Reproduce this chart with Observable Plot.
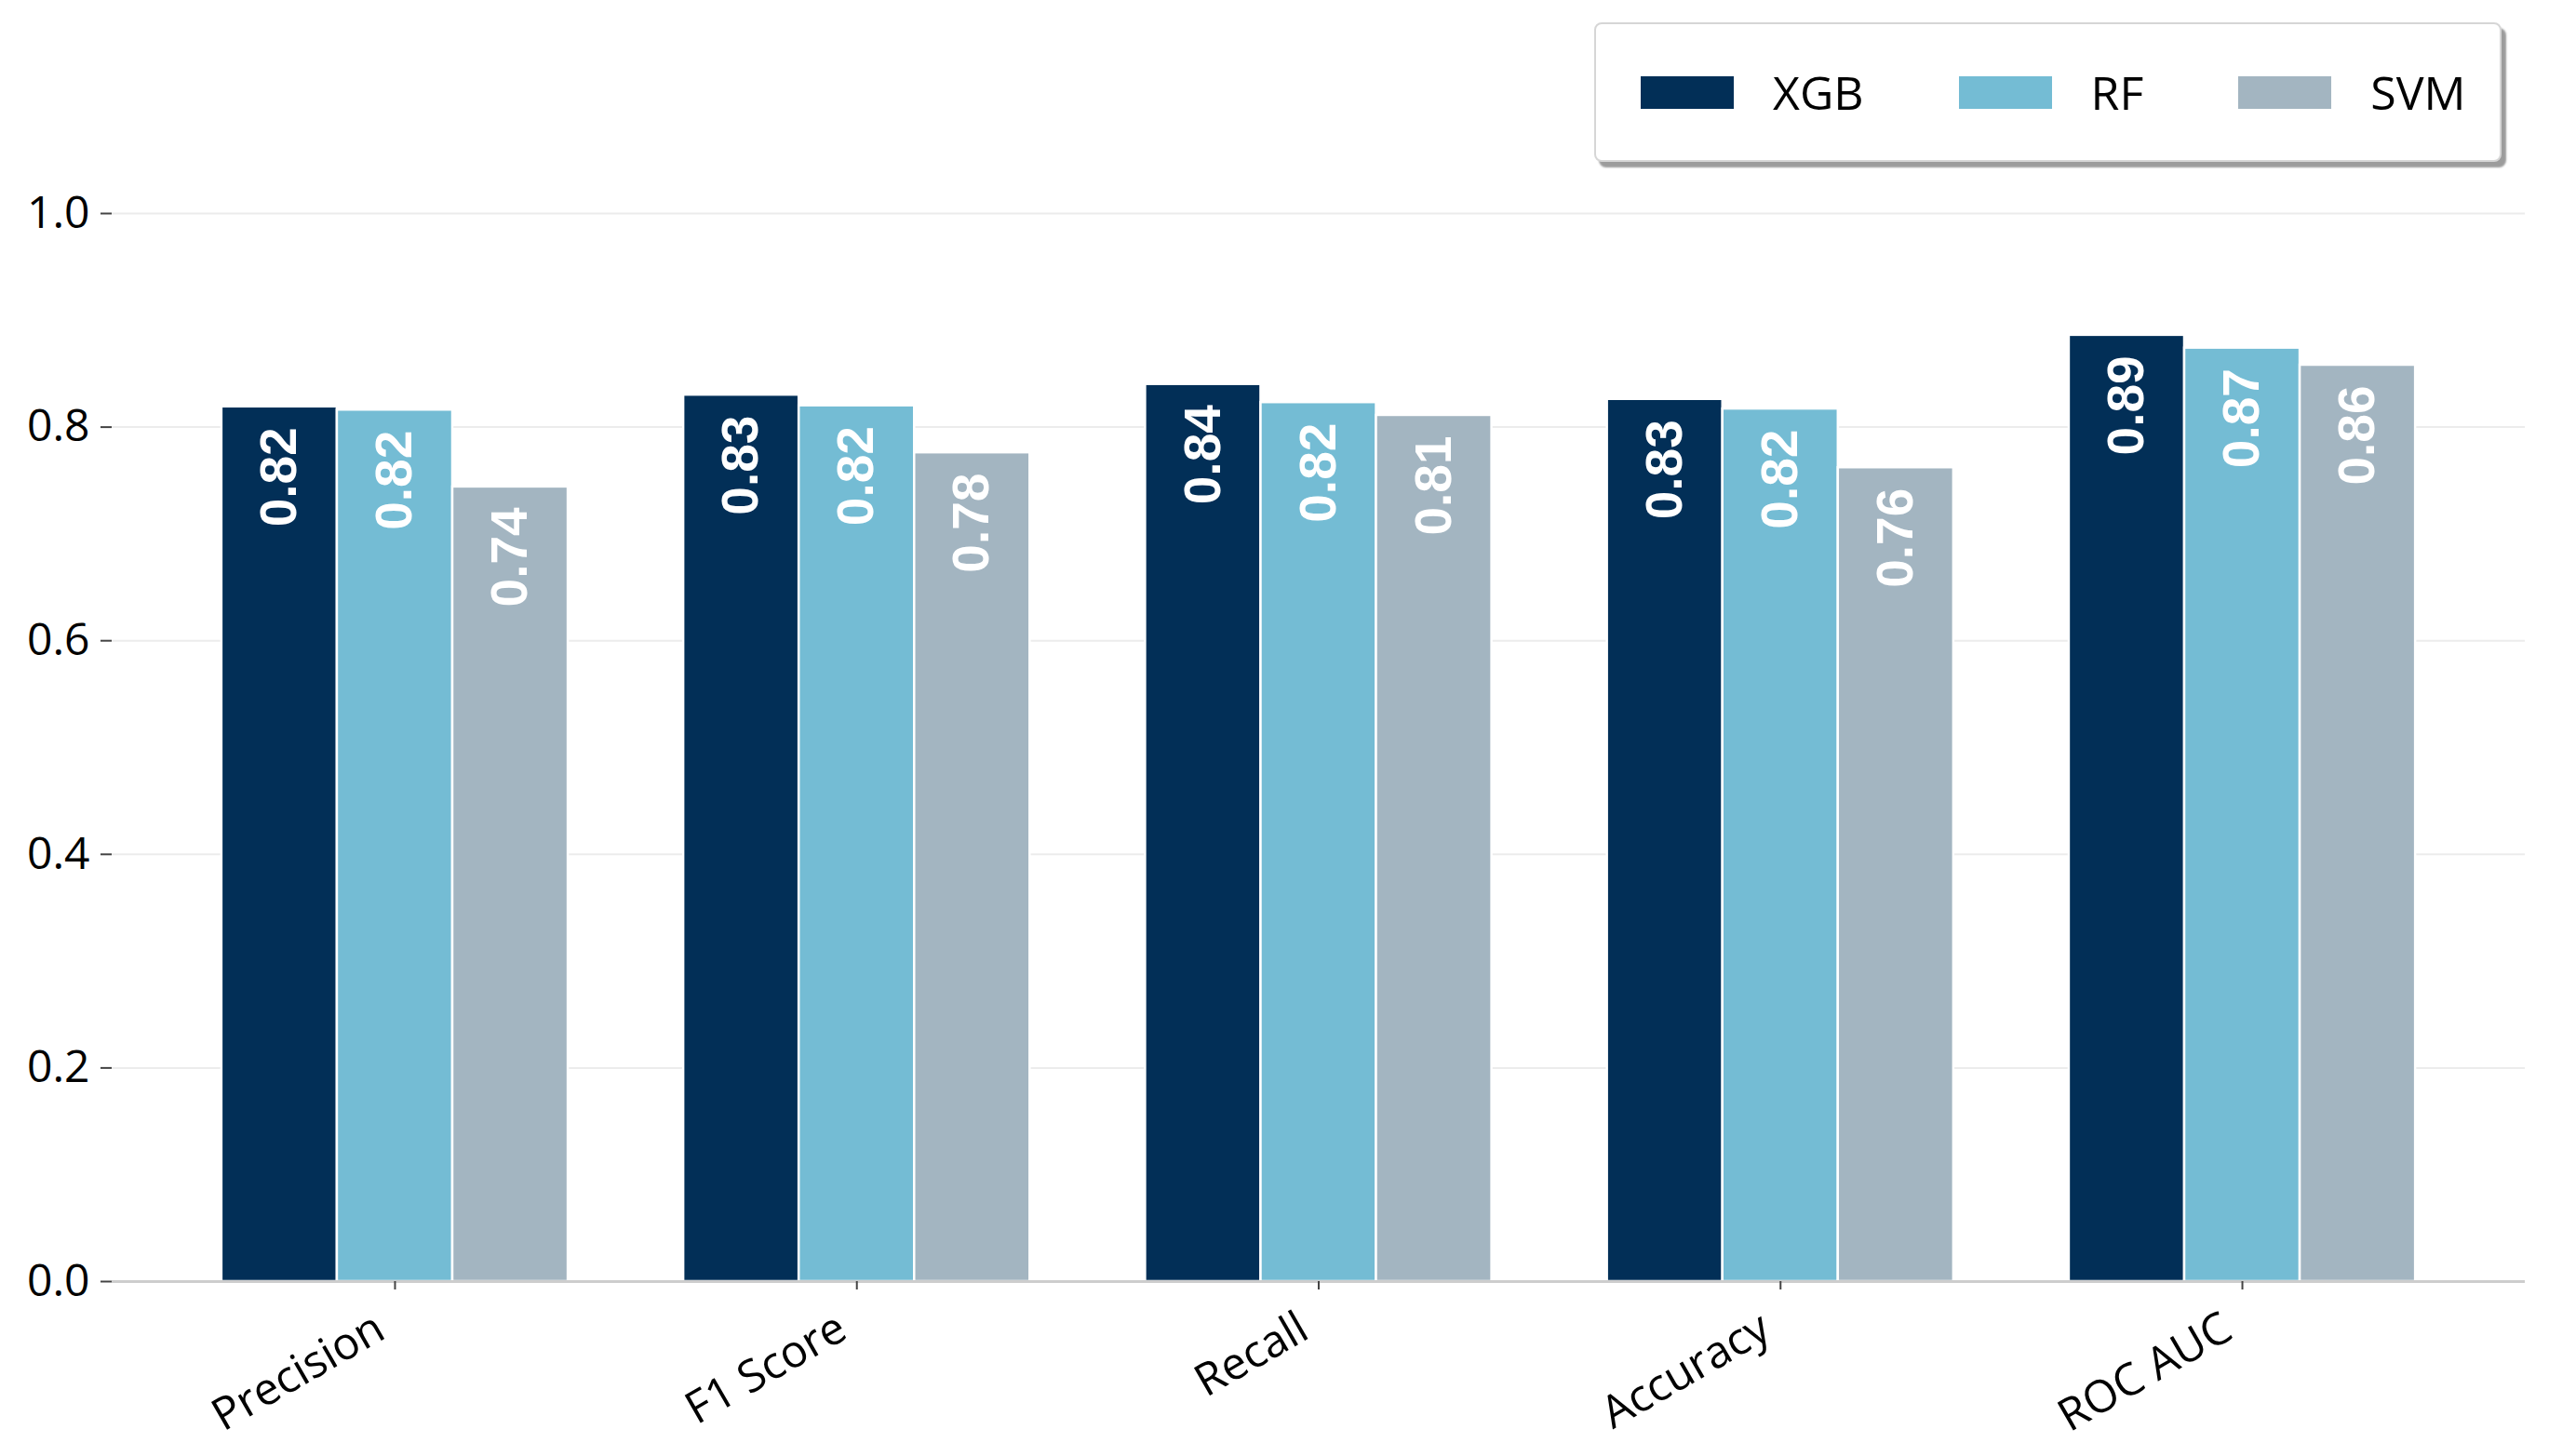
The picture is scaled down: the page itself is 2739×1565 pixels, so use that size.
<!DOCTYPE html>
<html>
<head>
<meta charset="utf-8">
<script src="https://cdn.jsdelivr.net/npm/d3@7"></script>
<script src="https://cdn.jsdelivr.net/npm/@observablehq/plot@0.6"></script>
<style>
  html, body { margin: 0; padding: 0; background: #ffffff; }
  #wrap { position: relative; width: 2739px; height: 1565px; background: #ffffff; }
  #legend {
    position: absolute; left: 1713px; top: 24px;
    border: 2px solid #d6d6d6; border-radius: 8px; background: #ffffff;
    box-shadow: 5px 6px 2px #9c9c9c;
    display: flex; align-items: center;
    font-family: "Open Sans", sans-serif; font-size: 50px; color: #000;
    padding-left: 48px; box-sizing: border-box; width: 975px; height: 150px;
  }
  .item { display: flex; align-items: center; margin-right: 102px; }
  .patch { width: 100px; height: 35px; margin-right: 42px; }
</style>
</head>
<body>
<div id="wrap"><div id="legend"></div></div>
<script>
// ---- data ----
const categories = ["Precision", "F1 Score", "Recall", "Accuracy", "ROC AUC"];
const models = ["XGB", "RF", "SVM"];
const xgbValues = [0.819, 0.830, 0.840, 0.826, 0.886];
const rfValues  = [0.816, 0.820, 0.823, 0.817, 0.874];
const svmValues = [0.744, 0.776, 0.811, 0.762, 0.858];
const modelColors = ["#022f57", "#74bcd4", "#a3b5c1"];
const yTicks = [0.0, 0.2, 0.4, 0.6, 0.8, 1.0];

// ---- derived table ----
const series = [xgbValues, rfValues, svmValues];
const barWidth = 0.25;
const rows = [];
categories.forEach((cat, i) => {
  models.forEach((m, j) => {
    const center = i + (j - 1) * barWidth;
    rows.push({category: cat, model: m, value: series[j][i],
               x1: center - barWidth / 2, x2: center + barWidth / 2, xc: center});
  });
});
const catIndex = categories.map((c, i) => i);

const chart = Plot.plot({
  width: 2739,
  height: 1565,
  marginLeft: 120,
  marginRight: 26,
  marginTop: 229,
  marginBottom: 188,
  style: {fontFamily: "Open Sans", background: "#ffffff"},
  x: {domain: [-0.6125, 4.6125]},
  y: {domain: [0, 1]},
  color: {domain: models, range: modelColors},
  marks: [
    Plot.gridY(yTicks.slice(1), {stroke: "#ececec", strokeOpacity: 1, strokeWidth: 2}),
    Plot.rectY(rows, {x1: "x1", x2: "x2", y: "value", fill: "model", stroke: "white", strokeWidth: 2.5}),
    Plot.ruleY([0], {stroke: "#cdcdcd", strokeWidth: 3}),
    Plot.text(rows, {
      x: "xc", y: "value", text: d => d.value.toFixed(2),
      rotate: -90, textAnchor: "end", dy: 22,
      fill: "white", fontSize: 55, fontWeight: "bold", fontFamily: "Liberation Sans"
    }),
    Plot.axisY({
      ticks: yTicks, tickFormat: d3.format(".1f"), tickSize: 12, tickPadding: 12,
      fontSize: 48, stroke: "#444", strokeWidth: 2, label: null, fill: "#000"
    }),
    Plot.axisX({
      ticks: catIndex, tickFormat: () => "", tickSize: 9, stroke: "#444", strokeWidth: 2, label: null
    }),
    Plot.text(catIndex, {
      x: d => d, y: () => 0, text: d => categories[d],
      rotate: -30, textAnchor: "end", lineAnchor: "top",
      dx: -25, dy: 30, fontSize: 48, fill: "#000", fontFamily: "Open Sans"
    })
  ]
});
document.getElementById("wrap").prepend(chart);

// ---- legend ----
const legend = document.getElementById("legend");
models.forEach((m, j) => {
  const item = document.createElement("div");
  item.className = "item";
  const patch = document.createElement("div");
  patch.className = "patch";
  patch.style.background = modelColors[j];
  const label = document.createElement("span");
  label.textContent = m;
  item.appendChild(patch);
  item.appendChild(label);
  legend.appendChild(item);
});
</script>
</body>
</html>
